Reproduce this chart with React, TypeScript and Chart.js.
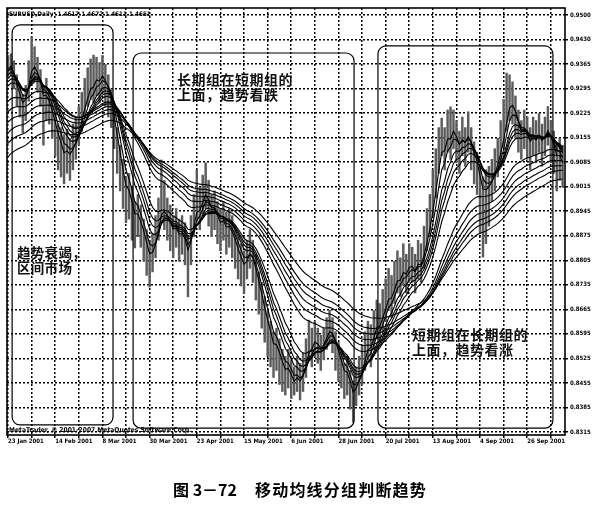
import React, { useEffect, useRef } from "react";
import Chart from "chart.js/auto";

// one date label every 16 daily bars, bar 0 = 23 Jan 2001
const dateLabels = [
    "23 Jan 2001", "14 Feb 2001", "8 Mar 2001", "30 Mar 2001", "23 Apr 2001", "15 May 2001",
    "6 Jun 2001", "28 Jun 2001", "20 Jul 2001", "13 Aug 2001", "4 Sep 2001", "26 Sep 2001",
];
const barsPerLabel = 16;
const gridStep = 8;

const priceLabels = [
    "0.9500", "0.9430", "0.9365", "0.9295", "0.9225", "0.9155", "0.9085", "0.9015", "0.8945",
    "0.8875", "0.8805", "0.8735", "0.8665", "0.8595", "0.8525", "0.8455", "0.8385", "0.8315",
];

const highs = [
    0.9385, 0.9390, 0.9370, 0.9330, 0.9300, 0.9275, 0.9300, 0.9370,
    0.9437, 0.9410, 0.9380, 0.9345, 0.9300, 0.9320, 0.9290, 0.9260,
    0.9235, 0.9190, 0.9180, 0.9160, 0.9175, 0.9150, 0.9190, 0.9210,
    0.9240, 0.9280, 0.9320, 0.9350, 0.9375, 0.9386, 0.9380, 0.9365,
    0.9385, 0.9360, 0.9330, 0.9290, 0.9240, 0.9180, 0.9130, 0.9090,
    0.9040, 0.9050, 0.9010, 0.8970, 0.8990, 0.8960, 0.8920, 0.8890,
    0.8860, 0.8880, 0.8930, 0.8980, 0.9088, 0.9030, 0.8980, 0.8960,
    0.8930, 0.8950, 0.8920, 0.8930, 0.8910, 0.8870, 0.8930, 0.8990,
    0.9060, 0.9010, 0.9045, 0.9080, 0.9030, 0.8990, 0.9000, 0.8970,
    0.8950, 0.8970, 0.8940, 0.8950, 0.8930, 0.8900, 0.8870, 0.8850,
    0.8830, 0.8860, 0.8890, 0.8860, 0.8820, 0.8770, 0.8740, 0.8700,
    0.8660, 0.8630, 0.8600, 0.8610, 0.8580, 0.8550, 0.8530, 0.8550,
    0.8520, 0.8500, 0.8530, 0.8510, 0.8540, 0.8580, 0.8633, 0.8610,
    0.8630, 0.8610, 0.8590, 0.8610, 0.8640, 0.8661, 0.8640, 0.8600,
    0.8570, 0.8540, 0.8510, 0.8530, 0.8490, 0.8460, 0.8500, 0.8530,
    0.8560, 0.8600, 0.8630, 0.8620, 0.8660, 0.8690, 0.8680, 0.8720,
    0.8750, 0.8780, 0.8760, 0.8800, 0.8830, 0.8810, 0.8850, 0.8820,
    0.8850, 0.8840, 0.8820, 0.8860, 0.8850, 0.8900, 0.8950, 0.8990,
    0.9060, 0.9120, 0.9180, 0.9207, 0.9180, 0.9230, 0.9239, 0.9230,
    0.9200, 0.9170, 0.9210, 0.9180, 0.9225, 0.9180, 0.9140, 0.9110,
    0.9070, 0.9040, 0.9060, 0.9070, 0.9090, 0.9120, 0.9150, 0.9200,
    0.9260, 0.9335, 0.9330, 0.9310, 0.9270, 0.9230, 0.9200, 0.9230,
    0.9210, 0.9180, 0.9210, 0.9200, 0.9220, 0.9190, 0.9210, 0.9240,
    0.9200, 0.9170, 0.9130, 0.9150, 0.9130,
];

const lows = [
    0.9320, 0.9330, 0.9290, 0.9240, 0.9210, 0.9165, 0.9200, 0.9255,
    0.9320, 0.9310, 0.9280, 0.9240, 0.9130, 0.9200, 0.9190, 0.9150,
    0.9100, 0.9060, 0.9040, 0.9020, 0.9050, 0.9030, 0.9060, 0.9090,
    0.9130, 0.9170, 0.9210, 0.9240, 0.9260, 0.9250, 0.9270, 0.9250,
    0.9280, 0.9240, 0.9210, 0.9180, 0.9120, 0.9050, 0.9000, 0.8950,
    0.8910, 0.8920, 0.8860, 0.8838, 0.8870, 0.8840, 0.8800, 0.8760,
    0.8727, 0.8770, 0.8810, 0.8860, 0.8920, 0.8890, 0.8860, 0.8830,
    0.8810, 0.8840, 0.8800, 0.8820, 0.8790, 0.8699, 0.8790, 0.8870,
    0.8920, 0.8890, 0.8930, 0.8950, 0.8900, 0.8870, 0.8890, 0.8850,
    0.8830, 0.8860, 0.8820, 0.8840, 0.8810, 0.8780, 0.8750, 0.8730,
    0.8710, 0.8750, 0.8780, 0.8740, 0.8690, 0.8650, 0.8610, 0.8570,
    0.8530, 0.8500, 0.8470, 0.8490, 0.8450, 0.8430, 0.8420, 0.8440,
    0.8410, 0.8420, 0.8430, 0.8406, 0.8430, 0.8470, 0.8520, 0.8500,
    0.8530, 0.8510, 0.8490, 0.8520, 0.8550, 0.8570, 0.8540, 0.8490,
    0.8460, 0.8440, 0.8410, 0.8420, 0.8380, 0.8343, 0.8390, 0.8420,
    0.8450, 0.8490, 0.8520, 0.8500, 0.8550, 0.8580, 0.8570, 0.8600,
    0.8630, 0.8660, 0.8640, 0.8680, 0.8710, 0.8700, 0.8730, 0.8710,
    0.8740, 0.8740, 0.8710, 0.8750, 0.8740, 0.8780, 0.8830, 0.8870,
    0.8930, 0.8980, 0.9050, 0.9100, 0.9060, 0.9110, 0.9090, 0.9120,
    0.9080, 0.9050, 0.9100, 0.9070, 0.9110, 0.9060, 0.9020, 0.8990,
    0.8880, 0.8812, 0.8850, 0.8900, 0.8970, 0.9000, 0.9040, 0.9080,
    0.9120, 0.9170, 0.9200, 0.9190, 0.9150, 0.9110, 0.9090, 0.9120,
    0.9090, 0.9060, 0.9100, 0.9080, 0.9110, 0.9070, 0.9100, 0.9130,
    0.9080, 0.9050, 0.9000, 0.9030, 0.9010,
];

const closes = [
    0.9350, 0.9365, 0.9310, 0.9275, 0.9250, 0.9225, 0.9270, 0.9330,
    0.9385, 0.9365, 0.9320, 0.9290, 0.9230, 0.9270, 0.9240, 0.9200,
    0.9165, 0.9130, 0.9110, 0.9080, 0.9120, 0.9095, 0.9130, 0.9160,
    0.9190, 0.9230, 0.9270, 0.9290, 0.9320, 0.9300, 0.9335, 0.9310,
    0.9340, 0.9300, 0.9275, 0.9230, 0.9160, 0.9110, 0.9060, 0.9010,
    0.8970, 0.8990, 0.8940, 0.8900, 0.8935, 0.8890, 0.8860, 0.8820,
    0.8790, 0.8830, 0.8870, 0.8920, 0.8980, 0.8950, 0.8920, 0.8895,
    0.8870, 0.8900, 0.8860, 0.8880, 0.8850, 0.8800, 0.8880, 0.8940,
    0.8980, 0.8950, 0.8990, 0.9010, 0.8960, 0.8930, 0.8950, 0.8910,
    0.8890, 0.8920, 0.8880, 0.8900, 0.8870, 0.8840, 0.8810, 0.8790,
    0.8770, 0.8810, 0.8840, 0.8800, 0.8750, 0.8710, 0.8670, 0.8630,
    0.8600, 0.8570, 0.8530, 0.8560, 0.8520, 0.8490, 0.8470, 0.8500,
    0.8460, 0.8440, 0.8480, 0.8450, 0.8490, 0.8530, 0.8580, 0.8560,
    0.8590, 0.8560, 0.8540, 0.8570, 0.8600, 0.8620, 0.8590, 0.8550,
    0.8520, 0.8490, 0.8460, 0.8480, 0.8430, 0.8400, 0.8450, 0.8480,
    0.8510, 0.8550, 0.8580, 0.8560, 0.8610, 0.8640, 0.8620, 0.8660,
    0.8690, 0.8720, 0.8700, 0.8740, 0.8770, 0.8750, 0.8790, 0.8760,
    0.8800, 0.8790, 0.8760, 0.8810, 0.8790, 0.8840, 0.8890, 0.8930,
    0.8990, 0.9050, 0.9120, 0.9160, 0.9120, 0.9180, 0.9150, 0.9190,
    0.9140, 0.9110, 0.9160, 0.9130, 0.9170, 0.9120, 0.9080, 0.9060,
    0.9000, 0.8970, 0.9000, 0.9020, 0.9040, 0.9070, 0.9100, 0.9140,
    0.9180, 0.9240, 0.9280, 0.9250, 0.9210, 0.9170, 0.9140, 0.9180,
    0.9150, 0.9120, 0.9160, 0.9140, 0.9170, 0.9130, 0.9160, 0.9190,
    0.9140, 0.9110, 0.9070, 0.9100, 0.9060,
];

// short group and long group of exponential averages
const maPeriods = [3, 5, 8, 10, 12, 15, 30, 35, 40, 45, 50, 60];
// where each average stands on the first visible bar
const maStart = [0.9345, 0.9340, 0.9330, 0.9320, 0.9310, 0.9298, 0.9255, 0.9225, 0.9195, 0.9165, 0.9135, 0.9097];

// rounded frames drawn around the three phases (bar index / price)
const boxes = [
    { from: 1.4, to: 35.6, top: 0.9472, bottom: 0.8335 },
    { from: 42.4, to: 117.3, top: 0.9392, bottom: 0.8326 },
    { from: 125.4, to: 184.7, top: 0.9412, bottom: 0.8326 },
];

const ema = (period: number, start: number) => {
    const k = 2 / (period + 1);
    let v = start;
    return closes.map((c, i) => {
        if (i > 0) v = v + k * (c - v);
        return { x: i, y: v };
    });
};

const tickFont = { family: '"DejaVu Sans Condensed", "DejaVu Sans", sans-serif', size: 6, weight: "bold" as const };

const framePlugin = {
    id: "frame",
    afterDatasetsDraw(chart: any) {
        const { ctx, chartArea: a, scales } = chart;
        const x = scales.x, y = scales.y;
        ctx.save();
        ctx.strokeStyle = "#000";
        ctx.lineWidth = 1.2;
        boxes.forEach((b) => {
            const l = x.getPixelForValue(b.from);
            const r = x.getPixelForValue(b.to);
            const t = y.getPixelForValue(b.top);
            const btm = y.getPixelForValue(b.bottom);
            ctx.beginPath();
            ctx.roundRect(l, t, r - l, btm - t, 8);
            ctx.stroke();
        });
        ctx.lineWidth = 1.6;
        ctx.strokeRect(a.left, a.top, a.right - a.left, a.bottom - a.top);
        ctx.restore();
    },
};

const App = () => {
    const canvasRef = useRef<HTMLCanvasElement>(null);

    useEffect(() => {
        const ctx = canvasRef.current!.getContext("2d") as CanvasRenderingContext2D;
        const top = parseFloat(priceLabels[0]);
        const bottom = parseFloat(priceLabels[priceLabels.length - 1]);
        const step = (top - bottom) / (priceLabels.length - 1);

        const lines = maPeriods.map((p, i) => ({
            type: "line",
            label: "EMA " + p,
            data: ema(p, maStart[i]),
            borderColor: "#000",
            borderWidth: 1.1,
            pointRadius: 0,
            fill: false,
            tension: 0,
            order: 1,
        }));

        const config: any = {
            type: "bar",
            data: {
                datasets: [
                    {
                        type: "bar",
                        label: "EURUSD",
                        data: highs.map((h, i) => ({ x: i, y: [lows[i], h] })),
                        backgroundColor: "#5c5c5c",
                        borderWidth: 0,
                        barThickness: 1.8,
                        grouped: false,
                        order: 2,
                    },
                    ...lines,
                ],
            },
            options: {
                responsive: false,
                animation: false,
                layout: { padding: { left: 7, top: 8, right: 0, bottom: 0 } },
                plugins: { legend: { display: false }, tooltip: { enabled: false }, title: { display: false } },
                scales: {
                    x: {
                        type: "linear",
                        min: -0.34,
                        max: 188.8,
                        offset: false,
                        afterBuildTicks: (s: any) => {
                            const t = [];
                            for (let v = 0; v < closes.length; v += gridStep) t.push({ value: v });
                            s.ticks = t;
                        },
                        afterFit: (s: any) => { s.height = 72; },
                        ticks: {
                            autoSkip: false,
                            maxRotation: 0,
                            align: "start",
                            padding: 0,
                            color: "#000",
                            font: tickFont,
                            callback: (v: number) => (v % barsPerLabel === 0 ? dateLabels[v / barsPerLabel] : ""),
                        },
                        grid: { color: "#000", lineWidth: 1.5, tickLength: 3, offset: false },
                        border: { display: false, dash: [2, 2] },
                    },
                    y: {
                        position: "right",
                        min: 0.830647,
                        max: 0.951989,
                        afterBuildTicks: (s: any) => {
                            s.ticks = priceLabels.map((_, k) => ({ value: top - k * step }));
                        },
                        afterFit: (s: any) => { s.width = 38; },
                        ticks: {
                            autoSkip: false,
                            padding: 2,
                            color: "#000",
                            font: tickFont,
                            callback: (_v: number, i: number) => priceLabels[i],
                        },
                        grid: { color: "#000", lineWidth: 1.5, tickLength: 3 },
                        border: { display: false, dash: [2, 2] },
                    },
                },
            },
            plugins: [framePlugin],
        };

        const chart = new Chart(ctx, config);
        return () => { chart.destroy(); };
    }, []);

    const small: React.CSSProperties = {
        position: "absolute",
        fontFamily: '"DejaVu Sans Condensed", "DejaVu Sans", sans-serif',
        fontWeight: "bold",
        fontSize: 6.3,
        lineHeight: "8px",
        whiteSpace: "pre",
        color: "#000",
    };
    const note: React.CSSProperties = {
        position: "absolute",
        fontFamily: '"Noto Sans CJK SC", sans-serif',
        fontWeight: "bold",
        fontSize: 14,
        lineHeight: "14.5px",
        letterSpacing: "0.5px",
        whiteSpace: "pre",
        color: "#111",
    };
    const caption: React.CSSProperties = {
        position: "absolute",
        fontFamily: '"Noto Sans CJK SC", sans-serif',
        fontWeight: "bold",
        fontSize: 16,
        lineHeight: "16px",
        whiteSpace: "pre",
        color: "#000",
    };

    return (
        <div style={{ position: "absolute", left: 0, top: 0, width: 603, height: 507, background: "#fff", overflow: "hidden" }}>
            <canvas ref={canvasRef} width={603} height={507} style={{ position: "absolute", left: 0, top: 0 }}></canvas>

            <div style={{ ...small, left: 9, top: 10 }}>EURUSD,Daily  1.4617 1.4672 1.4611 1.4651</div>
            <div style={{ ...small, left: 9, top: 426, fontSize: 6.7 }}>MetaTrader, © 2001-2007 MetaQuotes Software Corp.</div>

            <div style={{ ...note, left: 177, top: 72 }}>{"长期组在短期组的\n上面，趋势看跌"}</div>
            <div style={{ ...note, left: 17, top: 245, fontSize: 13.5, lineHeight: "15px", letterSpacing: "0.3px" }}>{"趋势衰竭，\n区间市场"}</div>
            <div style={{ ...note, left: 412, top: 327, lineHeight: "15px" }}>{"短期组在长期组的\n上面，趋势看涨"}</div>

            <div style={{ ...caption, left: 173, top: 481 }}>图 3－72</div>
            <div style={{ ...caption, left: 255, top: 481, letterSpacing: "1.2px" }}>移动均线分组判断趋势</div>
        </div>
    );
};

export default App;
